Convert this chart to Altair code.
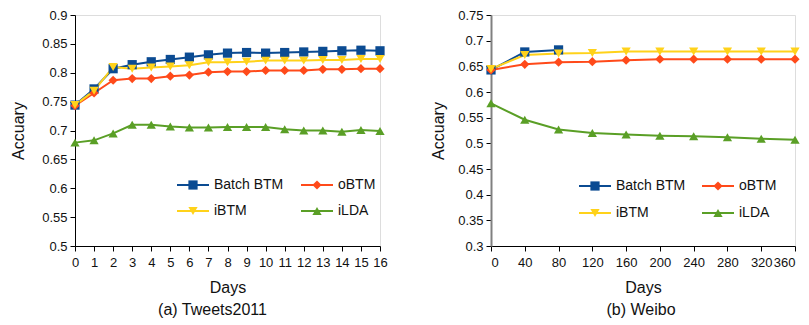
import altair as alt
import pandas as pd

series = ["Batch BTM", "oBTM", "iBTM", "iLDA"]
colors = ["#0b4b92", "#ff4a1a", "#ffd21a", "#5a9f26"]
shapes = ["square", "diamond", "triangle-down", "triangle-up"]

# (a) Tweets2011
t_days = list(range(17))
t_batch = [0.744, 0.772, 0.807, 0.814, 0.819, 0.823, 0.827, 0.831, 0.834, 0.835,
           0.834, 0.835, 0.836, 0.837, 0.838, 0.839, 0.838]
t_obtm = [0.743, 0.765, 0.787, 0.790, 0.790, 0.794, 0.796, 0.801, 0.802, 0.802,
          0.804, 0.804, 0.804, 0.806, 0.806, 0.807, 0.807]
t_ibtm = [0.744, 0.769, 0.810, 0.807, 0.809, 0.811, 0.813, 0.818, 0.818, 0.819,
          0.821, 0.821, 0.821, 0.822, 0.822, 0.824, 0.824]
t_ilda = [0.679, 0.683, 0.695, 0.710, 0.710, 0.707, 0.705, 0.705, 0.706, 0.706,
          0.706, 0.702, 0.700, 0.700, 0.698, 0.701, 0.699]

# (b) Weibo
w_days = [0, 40, 80, 120, 160, 200, 240, 280, 320, 360]
w_batch_days = [0, 40, 80]
w_batch = [0.643, 0.678, 0.682]
w_obtm = [0.643, 0.654, 0.658, 0.659, 0.662, 0.664, 0.664, 0.664, 0.664, 0.664]
w_ibtm = [0.645, 0.672, 0.675, 0.676, 0.679, 0.679, 0.679, 0.679, 0.679, 0.679]
w_ilda = [0.578, 0.546, 0.527, 0.520, 0.517, 0.515, 0.514, 0.512, 0.509, 0.507]


def frame(pairs):
    rows = []
    for name, xs, ys in pairs:
        for x, y in zip(xs, ys):
            rows.append({"series": name, "days": x, "acc": y})
    return pd.DataFrame(rows)


df_t = frame([("Batch BTM", t_days, t_batch), ("oBTM", t_days, t_obtm),
              ("iBTM", t_days, t_ibtm), ("iLDA", t_days, t_ilda)])
df_w = frame([("Batch BTM", w_batch_days, w_batch), ("oBTM", w_days, w_obtm),
              ("iBTM", w_days, w_ibtm), ("iLDA", w_days, w_ilda)])
df_leg = pd.DataFrame({"series": series, "idx": list(range(len(series)))})

FONT = "Liberation Sans"


def panel(df, xdom, xticks, ydom, yticks, caption, leg_x0, leg_y0, leg_dx, leg_dy,
          domain_color, domain_width, ytitle_pad, cap_dx, width, flush):
    cscale = alt.Scale(domain=series, range=colors)
    sscale = alt.Scale(domain=series, range=shapes)
    x = alt.X("days:Q", scale=alt.Scale(domain=xdom, nice=False, zero=False),
              axis=alt.Axis(values=xticks, format="d", title="Days", grid=False,
                            labelFont=FONT, labelFontSize=13, labelColor="#111111",
                            titleFont=FONT, titleFontSize=16, titleFontWeight="normal",
                            titleColor="#111111", titlePadding=10,
                            domainColor="#000000", tickColor="#000000",
                            tickSize=5, labelPadding=5, labelFlush=flush))
    y = alt.Y("acc:Q", scale=alt.Scale(domain=ydom, nice=False, zero=False),
              axis=alt.Axis(values=yticks, format=".2~f", title="Accuary", grid=False,
                            labelFont=FONT, labelFontSize=13, labelColor="#111111",
                            titleFont=FONT, titleFontSize=16, titleFontWeight="normal",
                            titleColor="#111111", titlePadding=ytitle_pad,
                            domainColor=domain_color, domainWidth=domain_width,
                            tickColor="#000000", tickSize=5, labelPadding=3))
    color = alt.Color("series:N", scale=cscale, legend=None)
    base = alt.Chart(df).encode(x=x, y=y, color=color, order=alt.Order("days:Q"))
    line = base.mark_line(strokeWidth=2)
    pts = base.mark_point(filled=True, size=85, opacity=1).encode(
        shape=alt.Shape("series:N", scale=sscale, legend=None))

    # legend built from the series list (layout in pixels inside the plot)
    lbase = alt.Chart(df_leg).transform_calculate(
        lx="%d + (datum.idx %% 2) * %d" % (leg_x0, leg_dx),
        ly="%d + floor(datum.idx / 2) * %d" % (leg_y0, leg_dy),
    ).transform_calculate(
        lx2="datum.lx + 32", lxm="datum.lx + 16", lxt="datum.lx + 37",
    )
    lrule = lbase.mark_rule(strokeWidth=2).encode(
        x=alt.X("lx:Q", scale=None, axis=None), x2="lx2:Q",
        y=alt.Y("ly:Q", scale=None, axis=None), color=color)
    lpt = lbase.mark_point(filled=True, size=85, opacity=1).encode(
        x=alt.X("lxm:Q", scale=None, axis=None),
        y=alt.Y("ly:Q", scale=None, axis=None), color=color,
        shape=alt.Shape("series:N", scale=sscale, legend=None))
    ltxt = lbase.mark_text(align="left", baseline="middle", font=FONT, fontSize=14,
                           color="#111111").encode(
        x=alt.X("lxt:Q", scale=None, axis=None),
        y=alt.Y("ly:Q", scale=None, axis=None), text="series:N")

    return alt.layer(line, pts, lrule, lpt, ltxt).properties(
        width=width, height=231,
        title=alt.TitleParams(caption, orient="bottom", font=FONT, fontSize=16,
                              fontWeight="normal", color="#111111", offset=7,
                              dx=cap_dx),
    )


left = panel(df_t, [0, 16], t_days, [0.5, 0.9],
             [0.5, 0.55, 0.6, 0.65, 0.7, 0.75, 0.8, 0.85, 0.9],
             "(a)  Tweets2011", 102, 170, 124, 26, "#000000", 1, 15, -15, 305, False)
right = panel(df_w, [0, 360], w_days, [0.3, 0.75],
              [0.3, 0.35, 0.4, 0.45, 0.5, 0.55, 0.6, 0.65, 0.7, 0.75],
              "(b) Weibo", 88, 171, 123, 27, "#808080", 2, 11, -2, 304, True)

chart = alt.hconcat(left, right, spacing=42).properties(
    padding={"left": 2, "top": 0, "right": 0, "bottom": -1}
).configure_view(stroke=None).configure(background="white")

chart.save("out.html", embed_options={"renderer": "svg", "actions": False})
